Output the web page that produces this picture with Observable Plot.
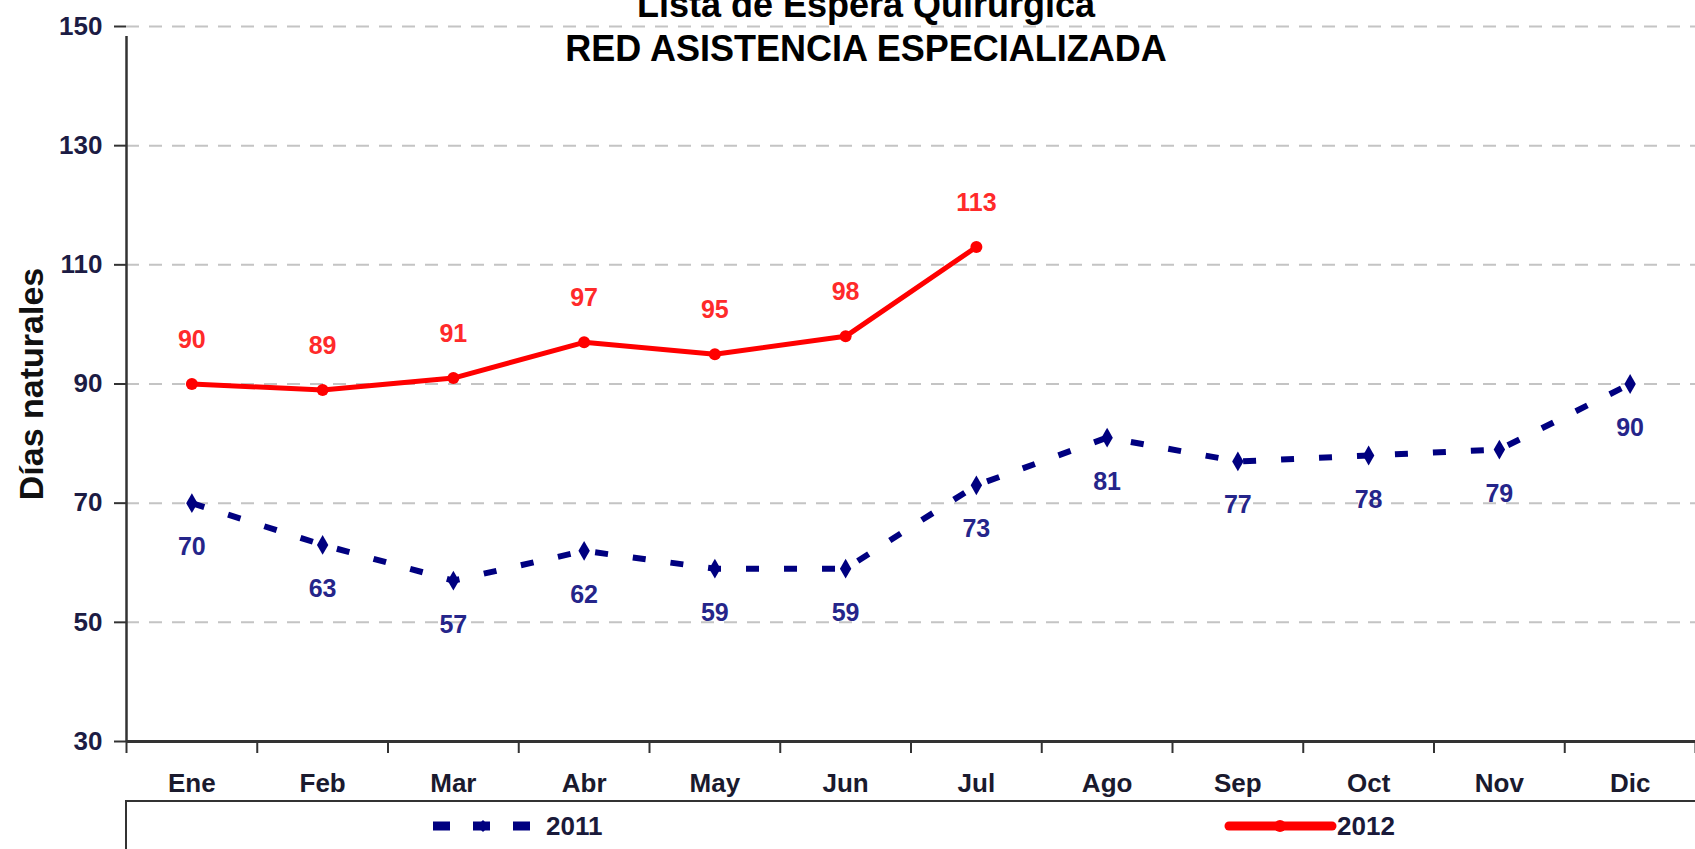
<!DOCTYPE html>
<html><head><meta charset="utf-8">
<script src="https://cdn.jsdelivr.net/npm/d3@7"></script>
<script src="https://cdn.jsdelivr.net/npm/@observablehq/plot@0.6"></script>
<style>
body{margin:0;background:#fff;overflow:hidden}
#wrap{position:relative;width:1695px;height:849px;overflow:hidden;font-family:"Liberation Sans",Arial,sans-serif}
#wrap svg.chart{position:absolute;left:0;top:0}
.title{position:absolute;left:466px;width:800px;text-align:center;font-size:36px;font-weight:bold;line-height:36px;color:#000;white-space:nowrap}
#legend{position:absolute;left:125px;top:800px;width:1700px;height:80px;border:2px solid #333;box-sizing:border-box;background:#fff}
.leg{position:absolute;top:812px;font-size:26px;font-weight:bold;line-height:28px;color:#1a1a3a}
.sw{position:absolute}
</style></head>
<body><div id="wrap"></div>
<script>
const months = ["Ene","Feb","Mar","Abr","May","Jun","Jul","Ago","Sep","Oct","Nov","Dic"];
const values2011 = [70, 63, 57, 62, 59, 59, 73, 81, 77, 78, 79, 90];
const values2012 = [90, 89, 91, 97, 95, 98, 113];
const yTicks = [30, 50, 70, 90, 110, 130, 150];
const seriesNames = ["2011", "2012"];
const titleLines = ["Lista de Espera Quirúrgica", "RED ASISTENCIA ESPECIALIZADA"];
const yLabel = "Días naturales";

const d2011 = values2011.map((v, i) => ({i, m: months[i], v}));
const d2012 = values2012.map((v, i) => ({i, m: months[i], v}));
const xPos = d => d.i + 0.5;

const wrap = document.getElementById("wrap");

const chart = Plot.plot({
  width: 1695, height: 849,
  marginLeft: 126, marginRight: 0, marginTop: 26, marginBottom: 108,
  x: {domain: [0, 12], axis: null},
  y: {domain: [30, 150], axis: null},
  style: {fontFamily: "Liberation Sans, Arial, sans-serif", background: "transparent", overflow: "visible"},
  marks: [
    Plot.ruleY(yTicks.filter(t => t > 30), {stroke: "#c4c4c4", strokeWidth: 2, strokeDasharray: "13,10"}),
    Plot.ruleX([0], {y1: 30, y2: 150, stroke: "#333", strokeWidth: 2.5, insetBottom: -10}),
    Plot.ruleY(yTicks, {x1: 0, x2: 0, insetLeft: -12, stroke: "#333", strokeWidth: 2}),
    Plot.text(yTicks, {x: 0, y: d => d, dx: -24, textAnchor: "end", fontSize: 26, fontWeight: "bold", fill: "#1c1c44"}),
    Plot.ruleY([30], {stroke: "#333", strokeWidth: 3}),
    Plot.ruleX(d3.range(13), {y1: 30, y2: 30, insetBottom: -12, stroke: "#333", strokeWidth: 2}),
    Plot.text(months, {x: (d, i) => i + 0.5, y: 30, dy: 42, fontSize: 26, fontWeight: "bold", fill: "#1a1a2e"}),
    Plot.text([yLabel], {x: -0.72, y: 90, rotate: -90, fontSize: 34, fontWeight: "bold", fill: "#111"}),
    Plot.line(d2011, {x: xPos, y: "v", stroke: "#000080", strokeWidth: 6, strokeDasharray: "13,25", strokeLinecap: "butt"}),
    Plot.dot(d2011, {x: xPos, y: "v", symbol: "diamond", r: 6, fill: "#000080"}),
    Plot.line(d2012, {x: xPos, y: "v", stroke: "#ff0000", strokeWidth: 5}),
    Plot.dot(d2012, {x: xPos, y: "v", r: 6, fill: "#ff0000"}),
    Plot.text(d2011, {x: xPos, y: "v", text: d => String(d.v), dy: 44, fontSize: 25, fontWeight: "bold", fill: "#25258a"}),
    Plot.text(d2012, {x: xPos, y: "v", text: d => String(d.v), dy: -44, fontSize: 25, fontWeight: "bold", fill: "#ff2a2a"})
  ]
});
chart.classList.add("chart");
wrap.appendChild(chart);

// titles
const tops = [-13, 31];
titleLines.forEach((t, k) => {
  const el = document.createElement("div");
  el.className = "title";
  el.style.top = tops[k] + "px";
  el.textContent = t;
  wrap.appendChild(el);
});

// legend
const lg = document.createElement("div");
lg.id = "legend";
wrap.appendChild(lg);
const ns = "http://www.w3.org/2000/svg";
function swatch(left, html) {
  const s = document.createElementNS(ns, "svg");
  s.setAttribute("class", "sw");
  s.setAttribute("width", 120); s.setAttribute("height", 20);
  s.style.left = left + "px"; s.style.top = "816px";
  s.innerHTML = html;
  wrap.appendChild(s);
}
swatch(430, '<line x1="3" x2="103" y1="10" y2="10" stroke="#000080" stroke-width="9" stroke-dasharray="17,23"/><path d="M53,4 L59,10 L53,16 L47,10Z" fill="#000080"/>');
swatch(1222, '<line x1="7" x2="110" y1="10" y2="10" stroke="#ff0000" stroke-width="9" stroke-linecap="round"/><circle cx="58" cy="10" r="6" fill="#ff0000"/>');
const legLeft = [546, 1337];
seriesNames.forEach((n, k) => {
  const el = document.createElement("div");
  el.className = "leg";
  el.style.left = legLeft[k] + "px";
  el.textContent = n;
  wrap.appendChild(el);
});
</script>
</body></html>
